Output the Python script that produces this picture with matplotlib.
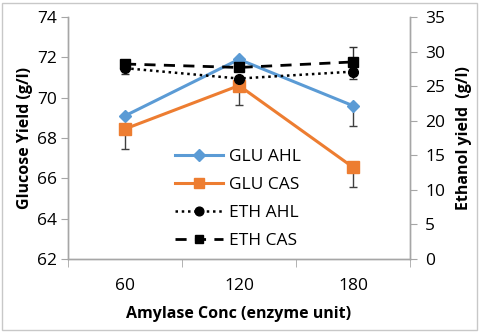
import matplotlib
matplotlib.use("Agg")
import matplotlib.pyplot as plt
from matplotlib.patches import Rectangle
import numpy as np

plt.rcParams['font.family'] = ['Open Sans', 'DejaVu Sans']

categories = ["60", "120", "180"]
glu_ahl = [69.1, 71.9, 69.6]
glu_ahl_err = [0.0, 0.0, 1.0]
glu_cas = [68.45, 70.6, 66.55]
glu_cas_err = [1.0, 0.95, 1.0]
eth_ahl = [27.6, 26.1, 27.1]
eth_ahl_err = [0.8, 0.0, 1.0]
eth_cas = [28.2, 27.7, 28.5]
eth_cas_err = [0.0, 0.0, 2.2]

blue = "#5B9BD5"
orange = "#ED7D31"
grey = "#A6A6A6"

fig = plt.figure(figsize=(4.8, 3.36), dpi=100)
fig.patches.append(Rectangle((2/480, 6/336), 475/480, 327/336, transform=fig.transFigure,
                             fill=False, edgecolor="#C8C8C8", linewidth=1.0))
ax = fig.add_axes([68/480, 77/336, 342/480, 242/336])
ax2 = ax.twinx()

x = np.arange(len(categories))

ax.errorbar(x, glu_ahl, yerr=[glu_ahl_err, [0]*3], fmt='none', ecolor="#404040",
            elinewidth=1.0, capsize=3, capthick=1.0, zorder=2)
ax.errorbar(x, glu_cas, yerr=[glu_cas_err, [0]*3], fmt='none', ecolor="#404040",
            elinewidth=1.0, capsize=3, capthick=1.0, zorder=2)
l1, = ax.plot(x, glu_ahl, color=blue, lw=2.2, marker='D', ms=6.5, label="GLU AHL", zorder=3)
l2, = ax.plot(x, glu_cas, color=orange, lw=2.2, marker='s', ms=8, label="GLU CAS", zorder=3)

ax2.errorbar(x, eth_ahl, yerr=[eth_ahl_err, [0]*3], fmt='none', ecolor="#303030",
             elinewidth=1.0, capsize=3, capthick=1.0, zorder=2)
ax2.errorbar(x, eth_cas, yerr=[[0]*3, eth_cas_err], fmt='none', ecolor="#303030",
             elinewidth=1.0, capsize=3, capthick=1.0, zorder=2)
l3, = ax2.plot(x, eth_ahl, color="black", lw=1.8, ls=(0, (1, 1.5)), marker='o', ms=7,
               label="ETH AHL", zorder=3)
l4, = ax2.plot(x, eth_cas, color="black", lw=2.0, ls=(0, (4, 3)), marker='s', ms=7,
               label="ETH CAS", zorder=3)

ax.set_xlim(-0.5, 2.5)
ax.set_ylim(62, 74)
ax.set_yticks(np.arange(62, 75, 2))
ax2.set_ylim(0, 35)
ax2.set_yticks(np.arange(0, 36, 5))

ax.set_xticks(x)
ax.set_xticklabels(categories)
ax.set_xticks([-0.5, 0.5, 1.5, 2.5], minor=True)
ax.tick_params(axis='x', which='major', length=0, pad=14, labelsize=12.5)
ax.tick_params(axis='x', which='minor', length=6, color=grey, direction='out')
ax.tick_params(axis='y', length=5, color=grey, labelsize=12.5, pad=3)
ax2.tick_params(axis='y', length=5, color=grey, labelsize=12.5, pad=6)

for a in (ax, ax2):
    a.spines['top'].set_visible(False)
    for s in ('left', 'right', 'bottom'):
        a.spines[s].set_color(grey)
        a.spines[s].set_linewidth(1.0)

ax.set_ylabel("Glucose Yield (g/l)", fontsize=11.5, fontweight='bold', labelpad=3)
ax2.set_ylabel("Ethanol yield  (g/l)", fontsize=11.5, fontweight='bold', labelpad=8)
ax.set_xlabel("Amylase Conc (enzyme unit)", fontsize=11.5, fontweight='bold', labelpad=8)

leg = ax2.legend(handles=[l1, l2, l3, l4], loc='upper left',
                 bbox_to_anchor=(0.312, 0.455), frameon=False, fontsize=12.5,
                 handlelength=2.8, handletextpad=0.3, labelspacing=0.68,
                 borderaxespad=0, borderpad=0, markerscale=0.9)

fig.savefig("out.png", dpi=100)
